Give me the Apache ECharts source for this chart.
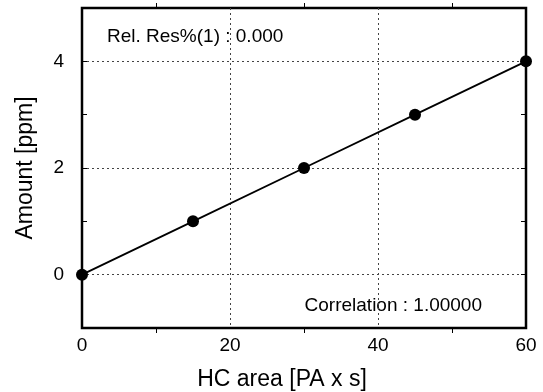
<!DOCTYPE html>
<html>
<head>
<meta charset="utf-8">
<script src="https://cdn.jsdelivr.net/npm/echarts@6/dist/echarts.min.js"></script>
<style>
  html, body { margin: 0; padding: 0; background: #fff; }
  #chart { width: 543px; height: 392px; }
</style>
</head>
<body>
<div id="chart"></div>
<script>
// calibration points
var hcArea = [0, 15, 30, 45, 60];
var amount = [0, 1, 2, 3, 4];
var xTicks = [0, 20, 40, 60];
var yTicks = [0, 2, 4];
var relRes = 'Rel. Res%(1) : 0.000';
var correlation = 'Correlation : 1.00000';

var myChart = echarts.init(document.getElementById('chart'));
var font = 'Liberation Sans, Arial, sans-serif';

function xAxisCfg(pos, withLabels) {
  return {
    type: 'value',
    position: pos,
    min: 0,
    max: 60,
    interval: 20,
    name: withLabels ? 'HC area [PA x s]' : '',
    nameLocation: 'middle',
    nameGap: 40,
    nameTextStyle: { fontFamily: font, fontSize: 23, color: '#000', padding: [0, 44, 0, 0] },
    axisLine: { show: false, onZero: false },
    axisTick: { show: false },
    minorTick: { show: true, splitNumber: 2, length: 5, lineStyle: { color: '#000', width: 1 } },
    axisLabel: {
      show: withLabels,
      margin: 8,
      fontFamily: font, fontSize: 19, color: '#000',
      formatter: function (v) { return xTicks.indexOf(v) >= 0 ? String(v) : ''; }
    },
    splitLine: {
      show: withLabels,
      lineStyle: { type: [2, 3], color: ['#000', '#444', '#444', '#000'], width: 1 }
    }
  };
}

function yAxisCfg(pos, withLabels) {
  return {
    type: 'value',
    position: pos,
    min: -1,
    max: 5,
    interval: 1,
    name: withLabels ? 'Amount [ppm]' : '',
    nameLocation: 'middle',
    nameGap: 45,
    nameTextStyle: { fontFamily: font, fontSize: 23, color: '#000' },
    axisLine: { show: false, onZero: false },
    axisTick: { show: true, inside: true, length: 5, lineStyle: { color: '#000', width: 1 } },
    axisLabel: {
      show: withLabels,
      margin: 18,
      fontFamily: font, fontSize: 19, color: '#000',
      formatter: function (v) { return yTicks.indexOf(v) >= 0 ? String(v) : ''; }
    },
    splitLine: {
      show: withLabels,
      lineStyle: { type: [2, 3], color: ['transparent', '#444'], width: 1 }
    }
  };
}

var option = {
  animation: false,
  backgroundColor: '#fff',
  grid: {
    left: 82,
    right: 17,
    top: 8,
    bottom: 64,
    outerBoundsMode: 'none',
    containLabel: false,
    show: true,
    borderColor: '#000',
    borderWidth: 2.5,
    backgroundColor: 'transparent'
  },
  xAxis: [xAxisCfg('bottom', true), xAxisCfg('top', false)],
  yAxis: [yAxisCfg('left', true), yAxisCfg('right', false)],
  graphic: [
    {
      type: 'text', left: 107, top: 27,
      style: { text: relRes, font: '19px ' + font, fill: '#000' }
    },
    {
      type: 'text', right: 61, top: 296,
      style: { text: correlation, font: '19px ' + font, fill: '#000' }
    }
  ],
  series: [
    {
      type: 'line',
      data: hcArea.map(function (x, i) { return [x, amount[i]]; }),
      symbol: 'circle',
      symbolSize: 12,
      showSymbol: true,
      clip: false,
      lineStyle: { color: '#000', width: 1.8 },
      itemStyle: { color: '#000' }
    }
  ]
};
myChart.setOption(option);
</script>
</body>
</html>
